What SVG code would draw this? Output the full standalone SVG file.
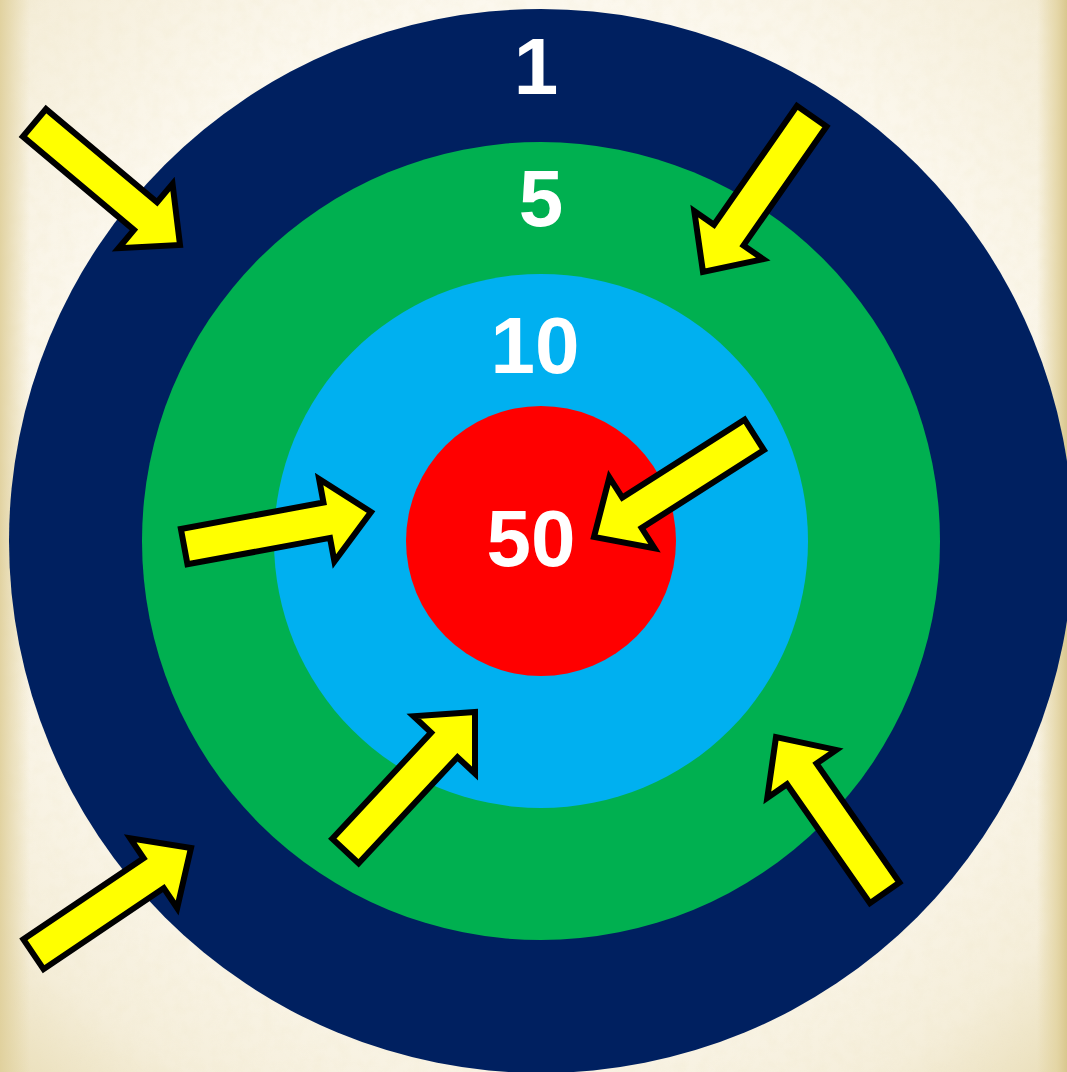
<svg xmlns="http://www.w3.org/2000/svg" width="1067" height="1072" viewBox="0 0 1067 1072">
  <defs>
    <radialGradient id="parch" cx="50%" cy="45%" r="75%">
      <stop offset="0" stop-color="#FFFFFC"/>
      <stop offset="0.6" stop-color="#FCF8EE"/>
      <stop offset="0.85" stop-color="#F5EEDA"/>
      <stop offset="1" stop-color="#E9DDB6"/>
    </radialGradient>
    <linearGradient id="edgeL" x1="0" y1="0" x2="1" y2="0">
      <stop offset="0" stop-color="#DFCF9A" stop-opacity="0.9"/>
      <stop offset="1" stop-color="#E2D3A0" stop-opacity="0"/>
    </linearGradient>
    <linearGradient id="edgeR" x1="1" y1="0" x2="0" y2="0">
      <stop offset="0" stop-color="#D9C78E" stop-opacity="1"/>
      <stop offset="0.35" stop-color="#E2D3A0" stop-opacity="0.8"/>
      <stop offset="1" stop-color="#E2D3A0" stop-opacity="0"/>
    </linearGradient>
    <filter id="grain" x="0" y="0" width="100%" height="100%">
      <feTurbulence type="fractalNoise" baseFrequency="0.08" numOctaves="3" seed="4"/>
      <feColorMatrix type="matrix" values="0 0 0 0 0.85  0 0 0 0 0.78  0 0 0 0 0.55  0 0 0 0.9 -0.3"/>
    </filter>
    <path id="arrow" d="M -190,-18 L -45,-18 L -45,-42 L 0,0 L -45,42 L -45,18 L -190,18 Z"/>
    <style>
      .arr { fill: #FFFF00; stroke: #000000; stroke-width: 6; stroke-linejoin: miter; stroke-miterlimit: 10; }
      .lbl { font-family: "Liberation Sans", Arial, sans-serif; font-weight: 700; font-size: 80px; fill: #FFFFFF; text-anchor: middle; }
    </style>
  </defs>

  <g id="background">
    <rect x="0" y="0" width="1067" height="1072" fill="url(#parch)"/>
    <rect x="0" y="0" width="1067" height="1072" filter="url(#grain)" opacity="0.35"/>
    <rect x="0" y="0" width="30" height="1072" fill="url(#edgeL)"/>
    <rect x="1037" y="0" width="30" height="1072" fill="url(#edgeR)"/>
  </g>

  <g id="target">
    <g id="ring-1"><circle cx="541" cy="541" r="532" fill="#002060"/></g>
    <g id="ring-5"><circle cx="541" cy="541" r="399" fill="#00B050"/></g>
    <g id="ring-10"><circle cx="541" cy="541" r="267" fill="#00B0F0"/></g>
    <g id="ring-50"><circle cx="541" cy="541" r="135" fill="#FF0000"/></g>
  </g>

  <g id="labels">
    <g id="label-1"><text class="lbl" x="536" y="94">1</text></g>
    <g id="label-5"><text class="lbl" x="541" y="226">5</text></g>
    <g id="label-10"><text class="lbl" x="535" y="373">10</text></g>
    <g id="label-50"><text class="lbl" x="531" y="566">50</text></g>
  </g>

  <g id="connectors">
    <g id="arrow-1"><use href="#arrow" class="arr" transform="translate(180,245) rotate(40)"/></g>
    <g id="arrow-2"><use href="#arrow" class="arr" transform="translate(703,272) rotate(124.9)"/></g>
    <g id="arrow-3"><use href="#arrow" class="arr" transform="translate(371,512) rotate(-10.5)"/></g>
    <g id="arrow-4"><use href="#arrow" class="arr" transform="translate(594,537) rotate(147.5)"/></g>
    <g id="arrow-5"><use href="#arrow" class="arr" transform="translate(191,848) rotate(-34)"/></g>
    <g id="arrow-6"><use href="#arrow" class="arr" transform="translate(475,712) rotate(-47)"/></g>
    <g id="arrow-7"><use href="#arrow" class="arr" transform="translate(776,737) rotate(-124.9)"/></g>
  </g>
</svg>
